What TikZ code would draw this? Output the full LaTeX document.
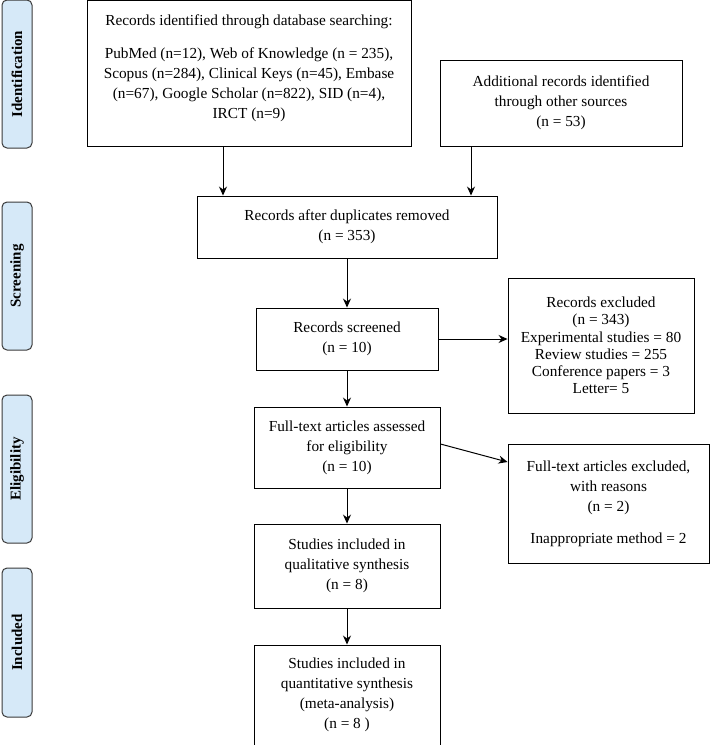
\documentclass[tikz,border=0pt]{standalone}
\usepackage{fontspec}
\setmainfont{Liberation Serif}
\usetikzlibrary{arrows.meta}
\definecolor{phase}{HTML}{D6E9F8}
\definecolor{phaseborder}{HTML}{3A3A3A}
\tikzset{
  box/.style={draw=black, line width=0.9pt, fill=white, align=center, inner sep=0pt,
    font=\fontsize{15.3}{20}\selectfont},
  phasebox/.style={draw=phaseborder, line width=1pt, fill=phase, rounded corners=5pt,
    minimum height=30pt, inner sep=0pt, rotate=90, font=\fontsize{15}{16}\bfseries\selectfont},
  arr/.style={-{Stealth[length=9pt,width=8pt]}, line width=1pt}
}
\begin{document}
\begin{tikzpicture}[x=1pt,y=-1pt]
\useasboundingbox (0,0) rectangle (710,745);
% phase labels
\node[phasebox, minimum width=148pt] (pid) at (17,74) {Identification};
\node[phasebox, minimum width=148pt] (psc) at (17,276) {Screening};
\node[phasebox, minimum width=148pt] (pel) at (17,469) {Eligibility};
\node[phasebox, minimum width=149pt] (pin) at (17,642.5) {Included};
% boxes
\node[box, minimum width=324pt, minimum height=146pt] (db) at (249,73)
 {Records identified through database searching:\\[13pt]
  PubMed (n=12), Web of Knowledge (n = 235),\\
  Scopus (n=284), Clinical Keys (n=45), Embase\\
  (n=67), Google Scholar (n=822), SID (n=4),\\
  IRCT (n=9)\\[-8pt]};
\node[box, minimum width=242pt, minimum height=86pt] (add) at (561,103)
 {Additional records identified\\ through other sources\\ (n = 53)};
\node[box, minimum width=300pt, minimum height=62pt] (dup) at (347,227)
 {Records after duplicates removed\\ (n = 353)};
\node[box, minimum width=182pt, minimum height=62pt] (scr) at (347,339)
 {Records screened\\ (n = 10)};
\node[box, minimum width=186pt, minimum height=135pt, font=\fontsize{15.3}{17.3}\selectfont] (exc) at (601,345.5)
 {Records excluded\\ (n = 343)\\ Experimental studies = 80\\ Review studies = 255\\ Conference papers = 3\\ Letter= 5};
\node[box, minimum width=186pt, minimum height=81pt] (ft) at (347,447.5)
 {Full-text articles assessed\\ for eligibility\\ (n = 10)};
\node[box, minimum width=201pt, minimum height=119pt] (ftx) at (608.5,503.5)
 {Full-text articles excluded,\\ with reasons\\ (n = 2)\\[12pt] Inappropriate method = 2};
\node[box, minimum width=186pt, minimum height=84pt] (qual) at (347,566)
 {Studies included in\\ qualitative synthesis\\ (n = 8)};
\node[box, minimum width=186pt, minimum height=100pt] (quant) at (347,695)
 {Studies included in\\ quantitative synthesis\\ (meta-analysis)\\ (n = 8 )};
% connectors
\draw[arr] (db.south -| 223,0) -- (dup.north -| 223,0);
\draw[arr] (add.south -| 471,0) -- (dup.north -| 471,0);
\draw[arr] (dup) -- (scr);
\draw[arr] (scr.east) -- (exc.west |- scr.east);
\draw[arr] (scr) -- (ft);
\draw[arr] (ft.east |- 0,444) -- (ftx.west |- 0,462);
\draw[arr] (ft) -- (qual);
\draw[arr] (qual) -- (quant);
\end{tikzpicture}
\end{document}
